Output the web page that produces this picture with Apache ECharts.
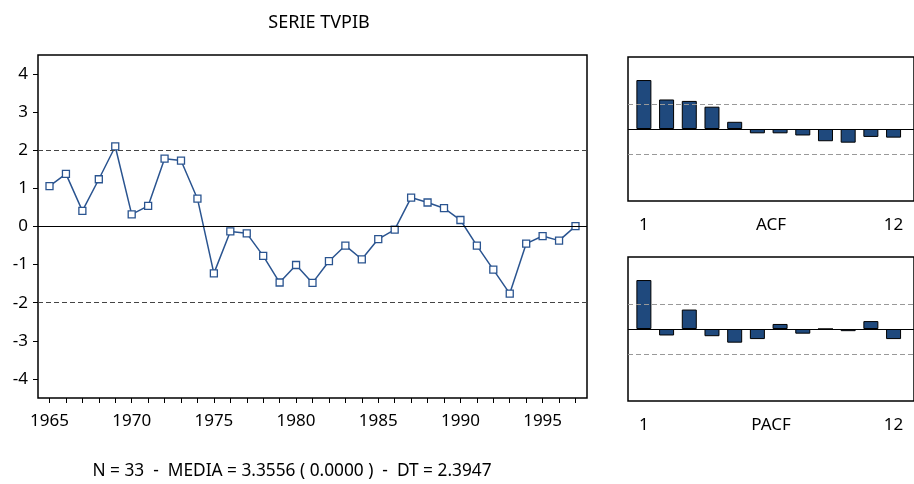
<!DOCTYPE html>
<html>
<head>
<meta charset="utf-8">
<script src="https://cdn.jsdelivr.net/npm/echarts@6/dist/echarts.min.js"></script>
<style>
  * { margin: 0; padding: 0; }
  body { background: #fff; }
  #chart { width: 914px; height: 484px; }
</style>
</head>
<body>
<div id="chart"></div>
<script>
// serie TVPIB, 1965-1997
var years = [];
for (var y = 1965; y <= 1997; y++) years.push(y);
var tvpib = [1.06, 1.38, 0.41, 1.24, 2.10, 0.32, 0.54, 1.78, 1.73, 0.73,
  -1.23, -0.13, -0.18, -0.77, -1.47, -1.01, -1.48, -0.91, -0.50, -0.86,
  -0.33, -0.08, 0.76, 0.63, 0.48, 0.17, -0.50, -1.13, -1.76, -0.45,
  -0.25, -0.37, 0.01];
var yearLabels = [1965, 1970, 1975, 1980, 1985, 1990, 1995];
var yLabels = [-4, -3, -2, -1, 0, 1, 2, 3, 4];

var lags = [1, 2, 3, 4, 5, 6, 7, 8, 9, 10, 11, 12];
var acf = [0.68, 0.41, 0.39, 0.31, 0.10, -0.06, -0.06, -0.09, -0.17, -0.19, -0.11, -0.12];
var pacf = [0.68, -0.09, 0.27, -0.10, -0.19, -0.14, 0.07, -0.065, 0.0, -0.03, 0.11, -0.14];
var band = 0.348; // 2/sqrt(N)

var FONT = 'Noto Sans';
var blue = '#2a5490';
var barBlue = '#1f497d';

function pairs(xs, vs) {
  return xs.map(function (x, i) { return [x, vs[i]]; });
}

function lines(vals, dashColor) {
  var d = [{ yAxis: 0, lineStyle: { color: '#000', type: 'solid', width: 1.2 } }];
  vals.forEach(function (v) {
    d.push({ yAxis: v, lineStyle: { color: dashColor, type: [5, 3], width: 1 } });
  });
  return { silent: true, symbol: 'none', label: { show: false }, data: d };
}

function lagAxis(idx, name) {
  return {
    type: 'value', gridIndex: idx, min: 0.3, max: 12.9,
    axisLine: { show: false, onZero: false }, splitLine: { show: false }, axisTick: { show: false },
    axisLabel: { customValues: [1, 12], margin: 16, fontSize: 17, color: '#000', fontFamily: FONT },
    name: name, nameLocation: 'middle', nameGap: 16, nameMoveOverlap: false,
    nameTextStyle: { fontSize: 17, color: '#000', fontFamily: FONT, verticalAlign: 'top' }
  };
}

var chart = echarts.init(document.getElementById('chart'));
chart.setOption({
  animation: false,
  textStyle: { fontFamily: FONT },
  title: [
    { text: 'SERIE TVPIB', left: 314, top: 9, textAlign: 'center',
      textStyle: { fontFamily: FONT, fontSize: 18, fontWeight: 'normal', color: '#000' } },
    { text: 'N = 33  -  MEDIA = 3.3556 ( 0.0000 )  -  DT = 2.3947', left: 287, top: 458, textAlign: 'center',
      textStyle: { fontFamily: FONT, fontSize: 17.3, fontWeight: 'normal', color: '#000' } }
  ],
  grid: [
    { left: 38, top: 55, width: 549, height: 343, show: true, borderColor: '#000', borderWidth: 1.5 },
    { left: 628, top: 57, right: -8, height: 144, show: true, borderColor: '#000', borderWidth: 1.5 },
    { left: 628, top: 257, right: -8, height: 144, show: true, borderColor: '#000', borderWidth: 1.5 }
  ],
  xAxis: [
    { type: 'value', gridIndex: 0, min: 1964.3, max: 1997.7,
      axisLine: { show: false, onZero: false }, splitLine: { show: false },
      axisTick: { show: true, length: 5, customValues: years, lineStyle: { color: '#000' } },
      axisLabel: { customValues: yearLabels, margin: 15, fontSize: 17, color: '#000', fontFamily: FONT,
        formatter: function (v) { return String(v); } } },
    lagAxis(1, 'ACF'),
    lagAxis(2, 'PACF')
  ],
  yAxis: [
    { type: 'value', gridIndex: 0, min: -4.5, max: 4.5,
      axisLine: { show: false }, splitLine: { show: false },
      axisTick: { show: true, length: 5, customValues: yLabels, lineStyle: { color: '#000' } },
      axisLabel: { customValues: yLabels, margin: 10, fontSize: 17, color: '#000', fontFamily: FONT } },
    { type: 'value', gridIndex: 1, min: -1, max: 1, show: false },
    { type: 'value', gridIndex: 2, min: -1, max: 1, show: false }
  ],
  series: [
    { type: 'line', xAxisIndex: 0, yAxisIndex: 0, data: pairs(years, tvpib),
      symbol: 'rect', symbolSize: 7, showAllSymbol: true,
      lineStyle: { color: blue, width: 1.5 },
      itemStyle: { color: '#fff', borderColor: blue, borderWidth: 1.3 },
      markLine: lines([2, -2], '#444') },
    { type: 'bar', xAxisIndex: 1, yAxisIndex: 1, data: pairs(lags, acf), barWidth: 15,
      itemStyle: { color: barBlue, borderColor: '#000', borderWidth: 1 },
      markLine: lines([band, -band], '#999') },
    { type: 'bar', xAxisIndex: 2, yAxisIndex: 2, data: pairs(lags, pacf), barWidth: 15,
      itemStyle: { color: barBlue, borderColor: '#000', borderWidth: 1 },
      markLine: lines([band, -band], '#999') }
  ]
});
</script>
</body>
</html>
